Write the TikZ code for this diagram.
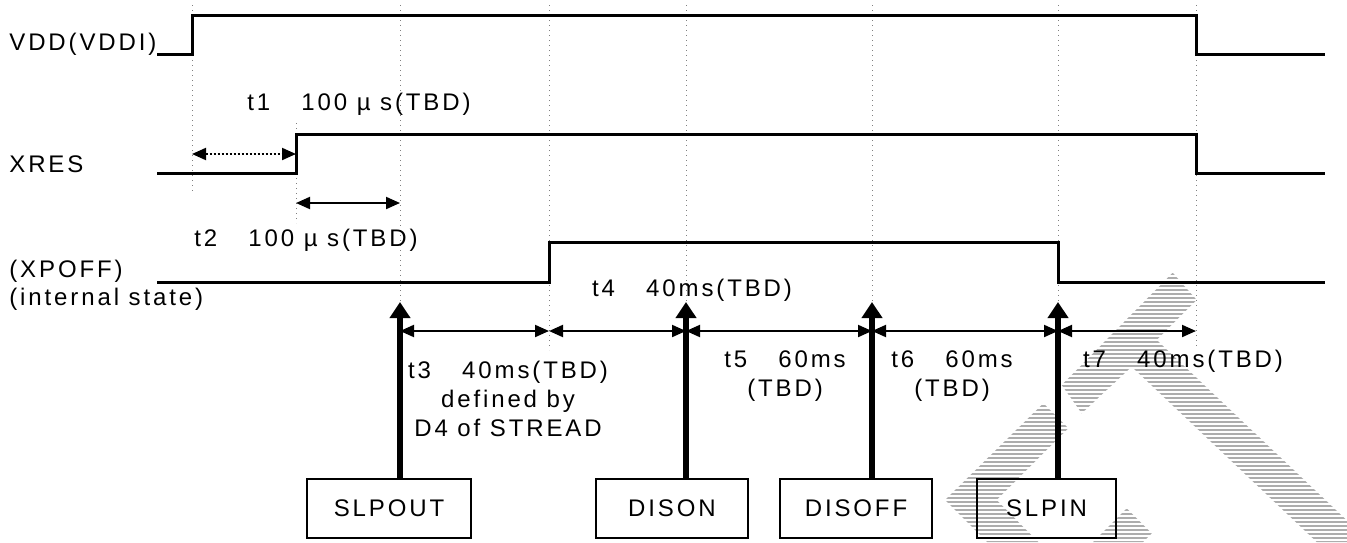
\documentclass[tikz,border=0pt]{standalone}
\usepackage{fontspec}
\setmainfont[LetterSpace=12]{Liberation Sans}
\usetikzlibrary{arrows.meta,positioning,patterns.meta}

\begin{document}
\begin{tikzpicture}[x=0.5pt,y=-0.5pt,
    every node/.style={font=\fontsize{12}{14.5}\selectfont,inner sep=0pt},
    sig/.style={line width=1.5pt},
    guide/.style={gray,dotted,line width=0.5pt},
    span/.style={line width=1pt,{Triangle[length=7pt,width=6pt]}-{Triangle[length=7pt,width=6pt]}},
    cmd/.style={draw,line width=1pt,minimum height=29.5pt,inner sep=0pt},
    cmdarrow/.style={line width=3pt,-{Triangle[length=8pt,width=10pt]}},
    logohatch/.style={pattern={Lines[angle=0,distance=2pt,line width=1.4pt]},pattern color=black!32}]
        \useasboundingbox (0,0) rectangle (1347,542);
        % watermark
        \fill[logohatch] (1172.7,272.7)--(1196.7,300)--(1156.7,340)--(1369.7,542)--(1316.7,542)
            --(1131.7,366.7)--(1081.7,413.3)--(1061.7,385)--cycle;
        \fill[logohatch] (1043.3,403.3)--(1068.3,428.3)--(996.7,500)--(1038.3,542)--(987,542)--(945,500)--cycle;
        \fill[logohatch] (1126.7,508.3)--(1151.7,533.3)--(1143,542)--(1093,542)--cycle;
        % guide lines
        \draw[guide] (192,5)--(192,191);
        \draw[guide] (296,123)--(296,223);
        \draw[guide] (400,5)--(400,302);
        \draw[guide] (549,5)--(549,350);
        \draw[guide] (686,5)--(686,302);
        \draw[guide] (872,5)--(872,302);
        \draw[guide] (1058,5)--(1058,302);
        \draw[guide] (1196,5)--(1196,348);
        % signals
        \node[anchor=west] (vdd) at (9,44) {VDD(VDDI)};
        \node[anchor=west] (xres) at (9,164) {XRES};
        \node[anchor=west] (xpoff) at (9,271) {(XPOFF)};
        \node[anchor=west] (state) at (9,299) {(internal state)};
        \draw[sig] (157,54)--(192,54)--(192,15)--(1196,15)--(1196,54)--(1325,54);
        \draw[sig] (157,173)--(296,173)--(296,134)--(1196,134)--(1196,173)--(1325,173);
        \draw[sig] (157,282)--(549,282)--(549,242)--(1058,242)--(1058,282)--(1325,282);
        % timings
        \coordinate (a1) at (192,154); \coordinate (b1) at (296,154);
        \coordinate (a2) at (296,203); \coordinate (b2) at (400,203);
        \draw[span,densely dotted] (a1)--(b1);
        \draw[span] (a2)--(b2);
        \node (t1) at (359,104) {t1\hspace{1.3em}100 µ s(TBD)};
        \node (t2) at (306,240) {t2\hspace{1.3em}100 µ s(TBD)};
        \coordinate (p1) at (400,331); \coordinate (p2) at (549,331);
        \coordinate (p3) at (686,331); \coordinate (p4) at (872,331);
        \coordinate (p5) at (1058,331); \coordinate (p6) at (1196,331);
        \draw[span] (p1)--(p2);
        \draw[span] (p2)--(p3);
        \draw[span] (p3)--(p4);
        \draw[span] (p4)--(p5);
        \draw[span] (p5)--(p6);
        \node (t4) at (692,290) {t4\hspace{1.3em}40ms(TBD)};
        \node[align=center] (t3) at (508,399) {t3\hspace{1.3em}40ms(TBD)\\defined by\\D4 of STREAD};
        \node[align=center] (t5) at (785,376) {t5\hspace{1.3em}60ms\\(TBD)};
        \node[align=center] (t6) at (952,376) {t6\hspace{1.3em}60ms\\(TBD)};
        \node (t7) at (1183,361) {t7\hspace{1.3em}40ms(TBD)};
        % commands
        \node[cmd,minimum width=82pt] (slpout) at (389,508.5) {SLPOUT};
        \node[cmd,minimum width=76pt] (dison) at (672,508.5) {DISON};
        \node[cmd,minimum width=76pt] (disoff) at (856,508.5) {DISOFF};
        \node[cmd,minimum width=69.5pt] (slpin) at (1046.5,508.5) {SLPIN};
        \draw[cmdarrow] (slpout.north -| p1)--(400,302);
        \draw[cmdarrow] (dison.north -| p3)--(686,302);
        \draw[cmdarrow] (disoff.north -| p4)--(872,302);
        \draw[cmdarrow] (slpin.north -| p5)--(1058,302);
\end{tikzpicture}
\end{document}
